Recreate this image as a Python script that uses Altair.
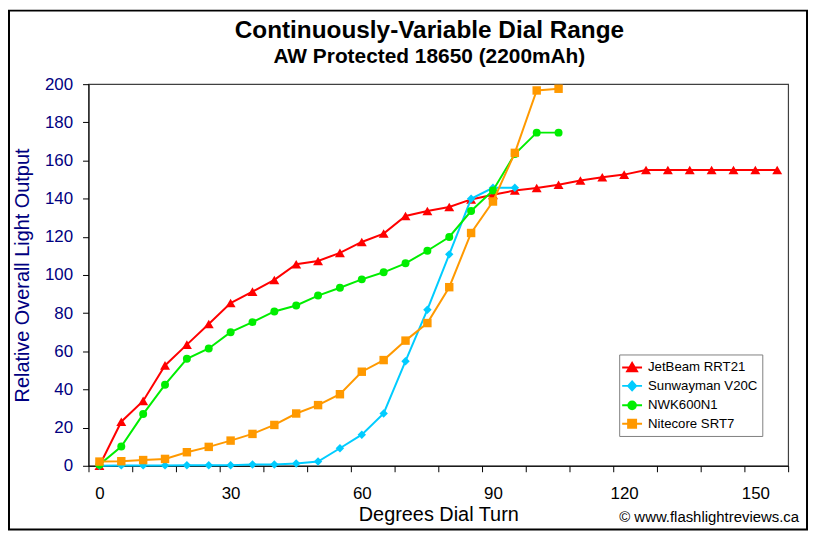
import altair as alt
import pandas as pd

# ---------------- data ----------------
series_names = ["JetBeam RRT21", "Sunwayman V20C", "NWK600N1", "Nitecore SRT7"]
series_colors = ["#FF0000", "#00CCFF", "#00EE00", "#FF9900"]
series_shapes = ["triangle-up", "diamond", "circle", "square"]

jetbeam_deg = [0, 5, 10, 15, 20, 25, 30, 35, 40, 45, 50, 55, 60, 65, 70, 75,
               80, 85, 90, 95, 100, 105, 110, 115, 120, 125, 130, 135, 140, 145, 150, 155]
jetbeam_val = [0, 23.1, 34.0, 52.6, 63.5, 74.3, 85.3, 91.3, 97.4, 105.6, 107.3, 111.6,
               117.3, 121.7, 130.9, 133.5, 135.6, 139.6, 142.0, 144.3, 145.6, 147.3,
               149.5, 151.2, 152.6, 155.0, 155.0, 155.0, 155.0, 155.0, 155.0, 155.0]

sunwayman_deg = [0, 5, 10, 15, 20, 25, 30, 35, 40, 45, 50, 55, 60, 65, 70, 75, 80, 85, 90, 95]
sunwayman_val = [0, 0.2, 0.2, 0.2, 0.3, 0.3, 0.3, 0.7, 0.7, 1.2, 2.2, 9.2, 16.3, 27.4,
                 54.8, 81.8, 110.8, 139.9, 145.7, 145.7]

nwk_deg = [0, 5, 10, 15, 20, 25, 30, 35, 40, 45, 50, 55, 60, 65, 70, 75, 80, 85, 90, 95, 100, 105]
nwk_val = [0.5, 10.1, 27.1, 42.5, 56.1, 61.5, 70.0, 75.3, 80.9, 84.0, 89.2, 93.3, 97.7,
           101.4, 106.1, 112.7, 119.9, 133.5, 144.3, 163.4, 174.6, 174.6]

nitecore_deg = [0, 5, 10, 15, 20, 25, 30, 35, 40, 45, 50, 55, 60, 65, 70, 75, 80, 85, 90, 95, 100, 105]
nitecore_val = [2.2, 2.4, 3.0, 3.6, 7.1, 9.9, 13.2, 16.7, 21.4, 27.4, 31.8, 37.5, 49.3,
                55.4, 65.6, 74.8, 93.6, 122.0, 138.5, 164.0, 196.7, 197.6]

x_label_values = [0, 30, 60, 90, 120, 150]
x_tick_values = [-2.5, 7.5, 17.5, 27.5, 37.5, 47.5, 57.5, 67.5, 77.5, 87.5, 97.5,
                 107.5, 117.5, 127.5, 137.5, 147.5, 157.5]
y_tick_values = [0, 20, 40, 60, 80, 100, 120, 140, 160, 180, 200]

chart_title = "Continuously-Variable Dial Range"
chart_subtitle = "AW Protected 18650 (2200mAh)"
x_title = "Degrees Dial Turn"
y_title = "Relative Overall Light Output"
copyright_text = "\u00a9 www.flashlightreviews.ca"

# ---------------- tables ----------------
all_deg = [jetbeam_deg, sunwayman_deg, nwk_deg, nitecore_deg]
all_val = [jetbeam_val, sunwayman_val, nwk_val, nitecore_val]
rows = []
for name, degs, vals in zip(series_names, all_deg, all_val):
    for d, v in zip(degs, vals):
        rows.append({"series": name, "deg": d, "val": v})
df = pd.DataFrame(rows)

legend_df = pd.DataFrame({"series_leg": series_names})

FONT = "Liberation Sans"
NAVY = "#000080"

x_scale = alt.Scale(domain=[-2.5, 157.5], nice=False, zero=False)
y_scale = alt.Scale(domain=[0, 200], nice=False)

x_axis = alt.Axis(
    title=x_title,
    values=sorted(x_label_values + x_tick_values),
    labelExpr="datum.value % 30 === 0 ? datum.label : ''",
    tickOpacity={"condition": {"test": "datum.value % 30 === 0", "value": 0}, "value": 1},
    labelOverlap=False,
    labelFlush=False,
    labelFontSize=17,
    labelColor="black",
    labelPadding=14,
    tickSize=6,
    tickColor="black",
    domainColor="black",
    grid=False,
    titleFontSize=20,
    titleFontWeight="normal",
    titleColor="black",
    titleY=39.5,
)

y_axis = alt.Axis(
    title=y_title,
    values=y_tick_values,
    labelFontSize=17,
    labelColor=NAVY,
    labelPadding=10,
    tickSize=6,
    tickColor="black",
    domainColor="black",
    grid=False,
    titleFontSize=20,
    titleFontWeight="normal",
    titleColor=NAVY,
    titleX=-56,
)

marker_sizes = {"triangle-up": 100, "diamond": 72, "circle": 64, "square": 72}

layers = []
for name, color, shape in zip(series_names, series_colors, series_shapes):
    base = alt.Chart(df).transform_filter(alt.datum.series == name)
    enc = dict(
        x=alt.X("deg:Q", scale=x_scale, axis=x_axis),
        y=alt.Y("val:Q", scale=y_scale, axis=y_axis),
    )
    layers.append(base.mark_line(color=color, strokeWidth=2).encode(**enc))
    layers.append(
        base.mark_point(filled=True, shape=shape, size=marker_sizes[shape],
                        color=color, opacity=1).encode(**enc)
    )

# legend symbols: short line with the series marker on it
legend_paths = [
    "M-1.25,0H1.25M0,-0.56L0.62,0.5L-0.62,0.5Z",
    "M-1.25,0H1.25M0,-0.55L0.5,0L0,0.55L-0.5,0Z",
    "M-1.25,0H1.25M0.48,0A0.48,0.48 0 1,1 -0.48,0A0.48,0.48 0 1,1 0.48,0Z",
    "M-1.25,0H1.25M-0.5,-0.5H0.5V0.5H-0.5Z",
]
legend = alt.Legend(
    title=None,
    orient="none",
    legendX=534,
    legendY=272,
    padding=4,
    strokeColor="#808080",
    fillColor="white",
    labelFontSize=13.3,
    labelFont=FONT,
    labelColor="black",
    labelOffset=7,
    symbolSize=256,
    symbolStrokeWidth=2,
    rowPadding=1.6,
)
leg_color_scale = alt.Scale(domain=series_names, range=series_colors)
legend_layer = (
    alt.Chart(legend_df)
    .transform_filter("false")
    .mark_point(strokeWidth=2, opacity=1)
    .encode(
        fill=alt.Fill("series_leg:N", scale=leg_color_scale, legend=legend),
        stroke=alt.Stroke("series_leg:N", scale=leg_color_scale, legend=legend),
        shape=alt.Shape("series_leg:N", scale=alt.Scale(domain=series_names, range=legend_paths),
                        legend=legend),
    )
)
layers.append(legend_layer)

# chart-area frame and copyright note
frame_layer = (
    alt.Chart(pd.DataFrame({"f": [0]}))
    .mark_rect(fillOpacity=0, stroke="black", strokeWidth=2)
    .encode(x=alt.value(-80), x2=alt.value(723), y=alt.value(-74), y2=alt.value(448))
)
note_layer = (
    alt.Chart(pd.DataFrame({"t": [copyright_text]}))
    .mark_text(align="right", baseline="alphabetic", fontSize=15, color="black", font=FONT)
    .encode(text="t:N", x=alt.value(715), y=alt.value(441))
)
layers += [frame_layer, note_layer]

chart = (
    alt.layer(*layers)
    .properties(
        width=704,
        height=384,
        autosize=alt.AutoSizeParams(type="none"),
        padding={"left": 81, "top": 75, "right": 21, "bottom": 66},
        title=alt.Title(
            text=chart_title,
            subtitle=chart_subtitle,
            font=FONT,
            subtitleFont=FONT,
            fontSize=24.5,
            subtitleFontSize=21,
            fontWeight="bold",
            subtitleFontWeight="bold",
            color="black",
            subtitleColor="black",
            anchor="middle",
            frame="group",
            offset=18,
            subtitlePadding=3,
            dx=-9,
            dy=77,
        ),
    )
    .configure(font=FONT, background="white")
    .configure_view(stroke="#404040", strokeWidth=1.2)
)

chart.save("out.html", embed_options={"renderer": "svg", "actions": False})
